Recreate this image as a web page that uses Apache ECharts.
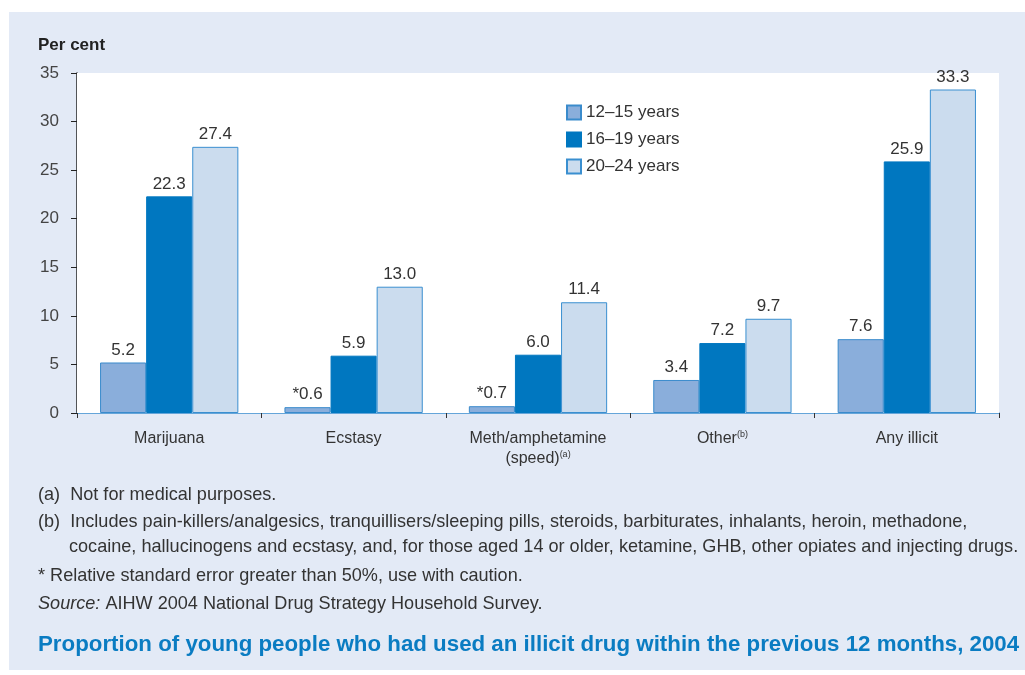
<!DOCTYPE html>
<html>
<head>
<meta charset="utf-8">
<script src="https://cdn.jsdelivr.net/npm/echarts@6/dist/echarts.min.js"></script>
<style>
  html, body { margin: 0; padding: 0; background: #ffffff; }
  #chart { width: 1025px; height: 675px; }
</style>
</head>
<body>
<div id="chart"></div>
<script>
// Drug categories along the x axis (rich-text markup for footnote superscripts)
var categories = ['Marijuana', 'Ecstasy', 'Meth/amphetamine\n(speed){sup|(a)}', 'Other{sup|(b)}', 'Any illicit'];

// Per cent of each age group using the drug in the previous 12 months
var age12to15 = [5.2, 0.6, 0.7, 3.4, 7.6];
var age16to19 = [22.3, 5.9, 6.0, 7.2, 25.9];
var age20to24 = [27.4, 13.0, 11.4, 9.7, 33.3];

// Estimates flagged with * (relative standard error above 50%)
var flag12to15 = [false, true, true, false, false];
var flag16to19 = [false, false, false, false, false];
var flag20to24 = [false, false, false, false, false];

var seriesNames = ['12\u201315 years', '16\u201319 years', '20\u201324 years'];

var yTicks = { min: 0, max: 35, interval: 5 };

var FONT = '"Liberation Sans", Arial, Helvetica, sans-serif';

function valueLabel(flags) {
  return function (p) {
    return (flags[p.dataIndex] ? '*' : '') + p.value.toFixed(1);
  };
}

function barSeries(name, data, flags, fill, border) {
  return {
    name: name,
    type: 'bar',
    data: data,
    barGap: '0%',
    barCategoryGap: '25%',
    itemStyle: { color: fill, borderColor: border, borderWidth: 1 },
    label: {
      show: true,
      position: 'top',
      distance: 4,
      formatter: valueLabel(flags),
      color: '#333333',
      fontSize: 17,
      fontFamily: FONT
    }
  };
}

function note(x, y, text, extra) {
  var style = {
    text: text, x: x, y: y, verticalAlign: 'middle',
    fontSize: 18.1, fontFamily: FONT, fill: '#333333'
  };
  if (extra) Object.assign(style, extra);
  return { type: 'text', style: style };
}

var chart = echarts.init(document.getElementById('chart'), null, { renderer: 'canvas' });

chart.setOption({
  animation: false,
  backgroundColor: '#ffffff',
  textStyle: { fontFamily: FONT },
  grid: {
    left: 77, right: 26, top: 73, height: 340,
    show: true, backgroundColor: '#ffffff', borderWidth: 0, z: 1
  },
  legend: {
    orient: 'vertical',
    left: 566, top: 104,
    padding: 0,
    itemWidth: 14, itemHeight: 14, itemGap: 10,
    icon: 'rect',
    textStyle: { fontSize: 17, lineHeight: 16, color: '#333333', fontFamily: FONT },
    data: seriesNames
  },
  xAxis: {
    type: 'category',
    data: categories,
    axisLine: { lineStyle: { color: '#3d8fd0', width: 1.5 } },
    axisTick: { show: true, length: 5, lineStyle: { color: '#333333' } },
    axisLabel: {
      margin: 16,
      fontSize: 16,
      color: '#333333',
      lineHeight: 20,
      fontFamily: FONT,
      rich: {
        sup: { fontSize: 9, color: '#333333', padding: [0, 0, 8, 0], fontFamily: FONT }
      }
    }
  },
  yAxis: {
    type: 'value',
    min: yTicks.min, max: yTicks.max, interval: yTicks.interval,
    splitLine: { show: false },
    axisLine: { show: true, lineStyle: { color: '#222222', width: 1.5 } },
    axisTick: { show: true, length: 6, lineStyle: { color: '#222222' } },
    axisLabel: { margin: 18, fontSize: 17, color: '#444444', fontFamily: FONT }
  },
  series: [
    barSeries(seriesNames[0], age12to15, flag12to15, '#8aaedb', '#3a8bcc'),
    barSeries(seriesNames[1], age16to19, flag16to19, '#0077c0', '#0077c0'),
    barSeries(seriesNames[2], age20to24, flag20to24, '#cbdcee', '#3a8fd0')
  ],
  graphic: [
    {
      type: 'rect', z: -10, silent: true,
      shape: { x: 9, y: 12, width: 1016, height: 658 },
      style: { fill: '#e3eaf6' }
    },
    note(38, 45, 'Per cent', { fontWeight: 'bold', fontSize: 17, fill: '#222222' }),
    note(38, 495, '(a)  Not for medical purposes.'),
    note(38, 522, '(b)  Includes pain-killers/analgesics, tranquillisers/sleeping pills, steroids, barbiturates, inhalants, heroin, methadone,'),
    note(69, 547, 'cocaine, hallucinogens and ecstasy, and, for those aged 14 or older, ketamine, GHB, other opiates and injecting drugs.'),
    note(38, 576, '* Relative standard error greater than 50%, use with caution.'),
    note(38, 604, '{i|Source:} AIHW 2004 National Drug Strategy Household Survey.', {
      rich: { i: { fontStyle: 'italic', fontSize: 18.1, fontFamily: FONT, fill: '#333333' } }
    }),
    note(38, 645, 'Proportion of young people who had used an illicit drug within the previous 12 months, 2004', {
      fontSize: 22.3, fontWeight: 'bold', fill: '#0a7cc2'
    })
  ]
});
</script>
</body>
</html>
